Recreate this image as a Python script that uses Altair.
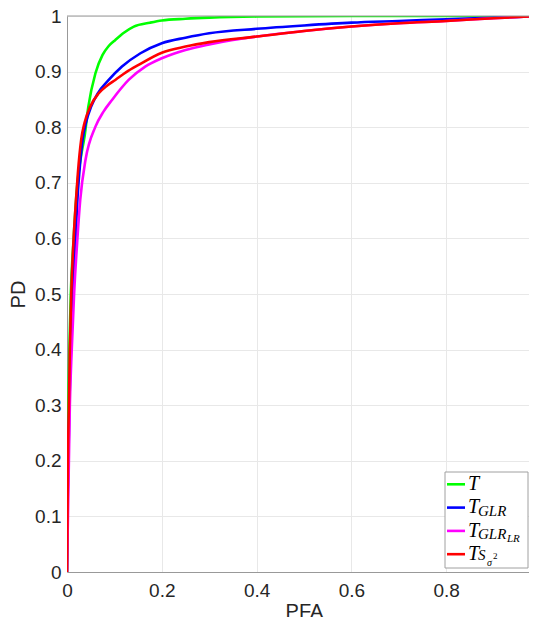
import altair as alt
import pandas as pd

# ---- data (PFA, PD) ----
t_pfa = [0, 0.001, 0.002, 0.003, 0.005, 0.008, 0.014, 0.022, 0.030, 0.037, 0.045, 0.060, 0.075, 0.088, 0.102, 0.120, 0.141, 0.175, 0.200, 0.250, 0.300, 0.400, 0.600, 0.800, 1.0]
t_pd  = [0, 0.100, 0.200, 0.300, 0.400, 0.500, 0.600, 0.700, 0.750, 0.783, 0.837, 0.897, 0.930, 0.946, 0.957, 0.970, 0.981, 0.988, 0.992, 0.995, 0.997, 0.999, 1.000, 1.000, 1.0]

glr_pfa = [0, 0.001, 0.003, 0.005, 0.008, 0.012, 0.018, 0.022, 0.026, 0.033, 0.040, 0.051, 0.065, 0.088, 0.116, 0.155, 0.200, 0.250, 0.300, 0.400, 0.500, 0.600, 0.700, 0.800, 0.900, 1.0]
glr_pd  = [0, 0.100, 0.200, 0.300, 0.400, 0.500, 0.600, 0.670, 0.718, 0.778, 0.808, 0.837, 0.861, 0.885, 0.909, 0.933, 0.951, 0.961, 0.969, 0.977, 0.983, 0.988, 0.991, 0.994, 0.997, 1.0]

glrlr_pfa = [0, 0.002, 0.004, 0.006, 0.010, 0.015, 0.022, 0.028, 0.039, 0.060, 0.077, 0.095, 0.130, 0.165, 0.200, 0.250, 0.300, 0.350, 0.400, 0.500, 0.600, 0.700, 0.800, 0.900, 1.0]
glrlr_pd  = [0, 0.100, 0.200, 0.300, 0.400, 0.500, 0.600, 0.670, 0.741, 0.801, 0.828, 0.849, 0.885, 0.909, 0.924, 0.939, 0.949, 0.957, 0.963, 0.973, 0.981, 0.987, 0.991, 0.996, 1.0]

s_pfa = [0, 0.001, 0.002, 0.004, 0.006, 0.009, 0.014, 0.019, 0.023, 0.030, 0.037, 0.049, 0.067, 0.085, 0.102, 0.125, 0.151, 0.200, 0.250, 0.300, 0.400, 0.500, 0.600, 0.700, 0.800, 0.900, 1.0]
s_pd  = [0, 0.100, 0.200, 0.300, 0.400, 0.500, 0.600, 0.670, 0.718, 0.778, 0.808, 0.837, 0.861, 0.875, 0.885, 0.899, 0.912, 0.934, 0.945, 0.953, 0.963, 0.973, 0.981, 0.987, 0.991, 0.996, 1.0]

series_names = ["T", "T_GLR", "T_GLR_LR", "T_S_sigma2"]
series_colors = ["#00ff00", "#0000ff", "#ff00ff", "#ff0000"]
series_data = [(t_pfa, t_pd), (glr_pfa, glr_pd), (glrlr_pfa, glrlr_pd), (s_pfa, s_pd)]

x_ticks = [0, 0.2, 0.4, 0.6, 0.8]
y_ticks = [0, 0.1, 0.2, 0.3, 0.4, 0.5, 0.6, 0.7, 0.8, 0.9, 1.0]

W, H = 462, 556
FONT = "Liberation Sans"

x_scale = alt.Scale(domain=[0, 0.9747], nice=False, zero=False)
y_scale = alt.Scale(domain=[0, 1], nice=False)

x_axis = alt.Axis(values=x_ticks, format=".1~f", title="PFA", grid=True, ticks=False, tickSize=0,
                  labelPadding=9, titlePadding=1, labelFontSize=19, titleFontSize=20,
                  labelFont=FONT, titleFont=FONT, titleFontWeight="normal",
                  labelColor="#262626", titleColor="#262626", domainColor="#999999",
                  gridColor="#e8e8e8", labelFlush=False, titleX=237)
y_axis = alt.Axis(values=y_ticks, format=".1~f", title="PD", grid=True, ticks=False, tickSize=0,
                  labelPadding=6, titlePadding=6, labelFontSize=19, titleFontSize=20,
                  labelFont=FONT, titleFont=FONT, titleFontWeight="normal",
                  labelColor="#262626", titleColor="#262626", domainColor="#999999",
                  gridColor="#e8e8e8", labelFlush=False)

layers = []
for i, (name, color, (px, py)) in enumerate(zip(series_names, series_colors, series_data)):
    df = pd.DataFrame({"PFA": px, "PD": py, "idx": list(range(len(px)))})
    layers.append(
        alt.Chart(df).mark_line(color=color, strokeWidth=2.6, clip=True, interpolate="monotone").encode(
            x=alt.X("PFA:Q", scale=x_scale, axis=x_axis),
            y=alt.Y("PD:Q", scale=y_scale, axis=y_axis),
            order="idx:Q",
        )
    )

one = pd.DataFrame({"a": [0]})

# top box line (MATLAB box on)
layers.append(alt.Chart(one).mark_rule(color="#999999", strokeWidth=1).encode(
    x=alt.value(0), x2=alt.value(W), y=alt.value(0)))

# ---- manual legend with sub/superscripts ----
bx0, bx1, by0, by1 = 378, 461, 456, 552
layers.append(alt.Chart(one).mark_rect(fill="white", stroke="#a0a0a0", strokeWidth=1).encode(
    x=alt.value(bx0), x2=alt.value(bx1), y=alt.value(by0), y2=alt.value(by1)))

row0, rowstep = 468.3, 23.3
serif = "Liberation Serif"
for i, color in enumerate(series_colors):
    cy = row0 + i * rowstep
    base = cy + 5.7
    layers.append(alt.Chart(one).mark_rule(color=color, strokeWidth=2.6).encode(
        x=alt.value(380), x2=alt.value(398), y=alt.value(cy)))
    layers.append(alt.Chart(one).mark_text(font=serif, fontStyle="italic", fontSize=20, align="left",
                                           baseline="alphabetic", color="#000000").encode(
        x=alt.value(401), y=alt.value(base), text=alt.value("T")))
    if i in (1, 2):
        layers.append(alt.Chart(one).mark_text(font=serif, fontStyle="italic", fontSize=15, align="left",
                                               baseline="alphabetic", color="#000000").encode(
            x=alt.value(411), y=alt.value(base + 2.5), text=alt.value("GLR")))
    if i == 2:
        layers.append(alt.Chart(one).mark_text(font=serif, fontStyle="italic", fontSize=11, align="left",
                                               baseline="alphabetic", color="#000000").encode(
            x=alt.value(440), y=alt.value(base + 5), text=alt.value("LR")))
    if i == 3:
        layers.append(alt.Chart(one).mark_text(font=serif, fontStyle="italic", fontSize=15, align="left",
                                               baseline="alphabetic", color="#000000").encode(
            x=alt.value(411), y=alt.value(base + 0), text=alt.value("S")))
        layers.append(alt.Chart(one).mark_text(font=serif, fontStyle="italic", fontSize=10, align="left",
                                               baseline="alphabetic", color="#000000").encode(
            x=alt.value(420), y=alt.value(base + 6), text=alt.value("σ")))
        layers.append(alt.Chart(one).mark_text(font=serif, fontSize=9, align="left",
                                               baseline="alphabetic", color="#000000").encode(
            x=alt.value(426), y=alt.value(base - 1), text=alt.value("2")))

chart = alt.layer(*layers).properties(
    width=W, height=H,
    autosize=alt.AutoSizeParams(type="none"),
    padding={"left": 59, "top": 8, "right": 0, "bottom": 45},
    background="white",
).configure_view(stroke=None)

chart.save("out.html", embed_options={"renderer": "svg", "actions": False})
